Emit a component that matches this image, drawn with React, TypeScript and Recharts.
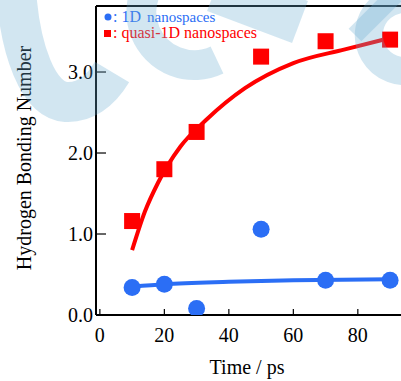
import React from 'react';
import { ComposedChart, Line, Scatter, XAxis, YAxis, ReferenceLine } from 'recharts';

// measured points
const times = [10, 20, 30, 50, 70, 90];
const quasiHB = [1.16, 1.8, 2.26, 3.19, 3.38, 3.4];
const oneDHB = [0.34, 0.38, 0.08, 1.06, 0.43, 0.43];

// fitted curves
const quasiFitT = [10, 14, 18, 25, 33, 45, 60, 76, 90];
const quasiFitHB = [0.8, 1.28, 1.63, 2.08, 2.41, 2.8, 3.11, 3.28, 3.42];
const oneDFitT = [10, 20, 40, 60, 90];
const oneDFitHB = [0.35, 0.38, 0.41, 0.43, 0.44];

const xTicks = [0, 20, 40, 60, 80];
const yTicks = [0, 1, 2, 3];

const RED = '#ff0000';
const BLUE = '#2b6ef5';
const FONT = 'Liberation Serif';

const quasiPts = times.map((t, i) => ({ t, v: quasiHB[i] }));
const oneDPts = times.map((t, i) => ({ t, v: oneDHB[i] }));
const quasiFit = quasiFitT.map((t, i) => ({ t, v: quasiFitHB[i] }));
const oneDFit = oneDFitT.map((t, i) => ({ t, v: oneDFitHB[i] }));

const SquareDot = (p: any) => <rect x={p.cx - 8} y={p.cy - 8} width={16} height={16} fill={RED} />;
const RoundDot = (p: any) => <circle cx={p.cx} cy={p.cy} r={8.5} fill={BLUE} />;

const XTick = ({ x, y, payload }: any) => (
  <g>
    <line x1={x} y1={y} x2={x} y2={y - 6} stroke="#000" strokeWidth={1.2} />
    <text x={x} y={y + 27} textAnchor="middle" fontSize={20} style={{ fontFamily: FONT }} fill="#000">
      {payload.value}
    </text>
  </g>
);

const YTick = ({ x, y, payload }: any) => (
  <g>
    <line x1={x} y1={y} x2={x + 10} y2={y} stroke="#000" strokeWidth={1.2} />
    <text x={x - 3} y={y + 7} textAnchor="end" fontSize={20} style={{ fontFamily: FONT }} fill="#000">
      {payload.value.toFixed(1)}
    </text>
  </g>
);

// faint logo watermark drawn over the chart
const Watermark = () => (
  <svg width={401} height={381} style={{ position: 'absolute', left: 0, top: 0, pointerEvents: 'none' }}>
    <g fill="none" stroke="rgb(107,172,207)" strokeOpacity={0.3}>
      <path d="M 16 -10 C 20 50, 38 100, 66 102 C 84 103, 100 92, 112 72" strokeWidth={40} />
      <path d="M 177 -38 A 53 53 0 1 0 217 60" strokeWidth={30} />
      <path d="M 215 -10 L 300 22" strokeWidth={45} />
      <path d="M 405 -1 A 36 36 0 1 0 436 53" strokeWidth={28} />
      <path d="M 355 35 L 395 -5" strokeWidth={18} />
    </g>
  </svg>
);

export default function App() {
  return (
    <div style={{ position: 'absolute', left: 0, top: 0, width: 401, height: 381, overflow: 'hidden', background: '#fff', fontFamily: FONT }}>
      <ComposedChart width={422} height={381} margin={{ top: 6, right: 0, bottom: 0, left: 0 }} style={{ fontFamily: FONT }}>
        <XAxis
          type="number"
          dataKey="t"
          domain={[-1.2, 99.9]}
          ticks={xTicks}
          height={66}
          tickSize={0}
          tickMargin={0}
          tickLine={false}
          tick={<XTick />}
          axisLine={{ stroke: '#000', strokeWidth: 2 }}
          allowDataOverflow
        />
        <YAxis
          type="number"
          dataKey="v"
          domain={[0, 3.815]}
          ticks={yTicks}
          width={96}
          tickSize={0}
          tickMargin={0}
          tickLine={false}
          tick={<YTick />}
          axisLine={{ stroke: '#000', strokeWidth: 2 }}
          allowDataOverflow
        />
        <ReferenceLine y={3.815} stroke="#000" strokeWidth={2} />
        <Line data={oneDFit} dataKey="v" type="monotone" stroke={BLUE} strokeWidth={4} dot={false} isAnimationActive={false} />
        <Line data={quasiFit} dataKey="v" type="monotone" stroke={RED} strokeWidth={4} dot={false} isAnimationActive={false} />
        <Scatter data={oneDPts} dataKey="v" shape={<RoundDot />} isAnimationActive={false} />
        <Scatter data={quasiPts} dataKey="v" shape={<SquareDot />} isAnimationActive={false} />
        <text x={24} y={158} transform="rotate(-90 24 158)" textAnchor="middle" dominantBaseline="central" fontSize={20} style={{ fontFamily: FONT }} fill="#000">
          Hydrogen Bonding Number
        </text>
        <text x={247} y={374} textAnchor="middle" fontSize={20} style={{ fontFamily: FONT }} fill="#000">
          Time / ps
        </text>
        <circle cx={108} cy={17} r={3.5} fill={BLUE} />
        <text x={113} y={21.5} fontSize={16} style={{ fontFamily: FONT }} fill={BLUE}>
          : 1D
        </text>
        <text x={147} y={21.5} fontSize={15} style={{ fontFamily: FONT }} fill={BLUE}>
          nanospaces
        </text>
        <rect x={104} y={30} width={7} height={7} fill={RED} />
        <text x={113} y={37.5} fontSize={16} style={{ fontFamily: FONT }} fill={RED}>
          : quasi-1D nanospaces
        </text>
      </ComposedChart>
      <Watermark />
    </div>
  );
}
